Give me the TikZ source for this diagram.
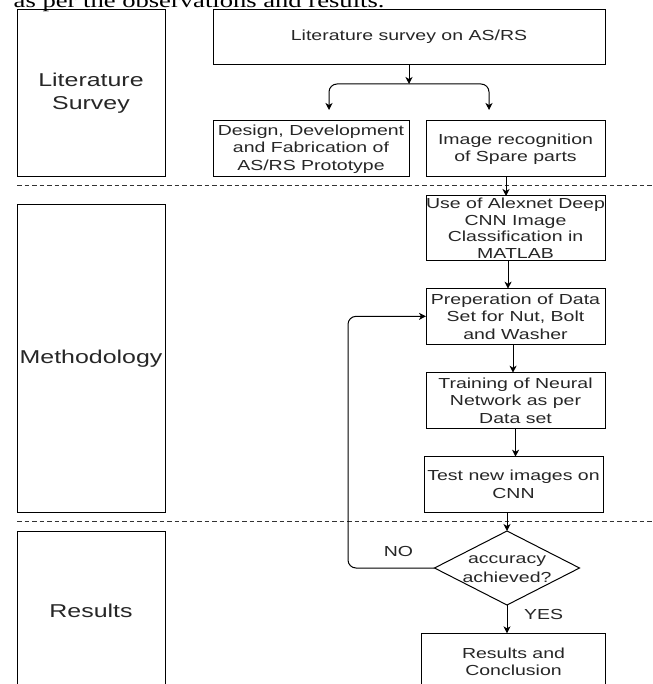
\documentclass[tikz,border=0pt]{standalone}
\usepackage{fontspec}
\usetikzlibrary{shapes.geometric,arrows.meta}
\newfontfamily\dfont[FakeStretch=1.34]{Liberation Sans}
\newfontfamily\tfont[FakeStretch=1.34]{Liberation Serif}
\definecolor{txt}{HTML}{262626}
\tikzset{
  box/.style={draw=black, line width=1pt, rectangle, inner sep=0pt, outer sep=0pt, align=center, text=txt,
    font=\dfont\fontsize{14.55}{17.5}\selectfont},
  sidebox/.style={box, minimum width=148pt, font=\dfont\fontsize{18.6}{23.3}\selectfont},
  lbl/.style={inner sep=0pt, text=txt, font=\dfont\fontsize{14.55}{17.5}\selectfont},
  arr/.style={draw=black, line width=1pt, -{Stealth[length=7pt,width=7pt,inset=2pt]}},
  sep/.style={draw=black!80, line width=0.8pt, dash pattern=on 4.5pt off 3pt}
}
\begin{document}
\begin{tikzpicture}[x=1pt,y=-1pt]
\useasboundingbox (0,0) rectangle (652,684);
\clip (0,0) rectangle (652,684);
% cut-off text line of the page above the figure
\node[anchor=base west, inner sep=0pt, font=\tfont\fontsize{19.85}{22}\selectfont] (pagetxt) at (13.5,7.5) {as per the observations and results.};
% side boxes
\node[sidebox, minimum height=167.7pt] (lit) at (91,93.15) {Literature\\Survey};
\node[sidebox, minimum height=307.3pt] (meth) at (91,358.65) {Methodology};
\node[sidebox, minimum height=159pt] (resl) at (91,610.5) {Results};
% separators
\coordinate (s1a) at (17,185.5); \coordinate (s1b) at (652,185.5);
\coordinate (s2a) at (17,521.5); \coordinate (s2b) at (652,521.5);
\draw[sep] (s1a) -- (s1b);
\draw[sep] (s2a) -- (s2b);
% flow boxes
\node[box, minimum width=392pt, minimum height=55.7pt] (top) at (409,37.15) {Literature survey on AS/RS};
\node[box, minimum width=196pt, minimum height=56pt] (design) at (311,149) {Design, Development\\and Fabrication of\\AS/RS Prototype};
\node[box, minimum width=179pt, minimum height=56pt] (img) at (515.5,149) {Image recognition\\of Spare parts};
\node[box, minimum width=179pt, minimum height=64.7pt, font=\dfont\fontsize{14.55}{16.7}\selectfont] (alex) at (515.5,228.35) {Use of Alexnet Deep\\CNN Image\\Classification in\\MATLAB};
\node[box, minimum width=179pt, minimum height=55.3pt] (prep) at (515.5,316.35) {Preperation of Data\\Set for Nut, Bolt\\and Washer};
\node[box, minimum width=179pt, minimum height=55.6pt] (train) at (515.5,400.5) {Training of Neural\\Network as per\\Data set};
\node[box, minimum width=179pt, minimum height=55.6pt] (test) at (513.5,484.5) {Test new images on\\CNN};
\node[diamond, draw=black, line width=1pt, minimum width=145pt, minimum height=74pt, inner sep=0pt, outer sep=0pt] (dia) at (507,568) {};
\node[lbl, align=center, font=\dfont\fontsize{14.55}{18.3}\selectfont] (diatxt) at (507,569) {accuracy\\achieved?};
\node[box, minimum width=184pt, minimum height=56.7pt] (res) at (513.5,661.7) {Results and\\Conclusion};
% labels
\node[lbl] (no) at (398.5,551.7) {NO};
\node[lbl] (yes) at (543.5,614) {YES};
% connectors
\coordinate (fork) at (409,84);
\coordinate (fl) at (329,110);
\coordinate (fr) at (489,110);
\coordinate (loop) at (348,450);
\draw[arr] (top.south) -- (fork);
\draw[arr, rounded corners=8pt] (fork) -| (fl);
\draw[arr, rounded corners=8pt] (fork) -| (fr);
\draw[arr] ([xshift=-9.5pt]img.south) -- ([xshift=-9.5pt]alex.north);
\draw[arr] ([xshift=-7.5pt]alex.south) -- ([xshift=-7.5pt]prep.north);
\draw[arr] ([xshift=-2.5pt]prep.south) -- ([xshift=-2.5pt]train.north);
\draw[arr] (train.south) -- (train.south |- test.north);
\draw[arr] ([xshift=-6.5pt]test.south) -- (dia.north);
\draw[arr] (dia.south) -- (dia.south |- res.north);
\draw[arr, rounded corners=8pt] (dia.west) -| (loop) |- (prep.west);
\end{tikzpicture}
\end{document}
